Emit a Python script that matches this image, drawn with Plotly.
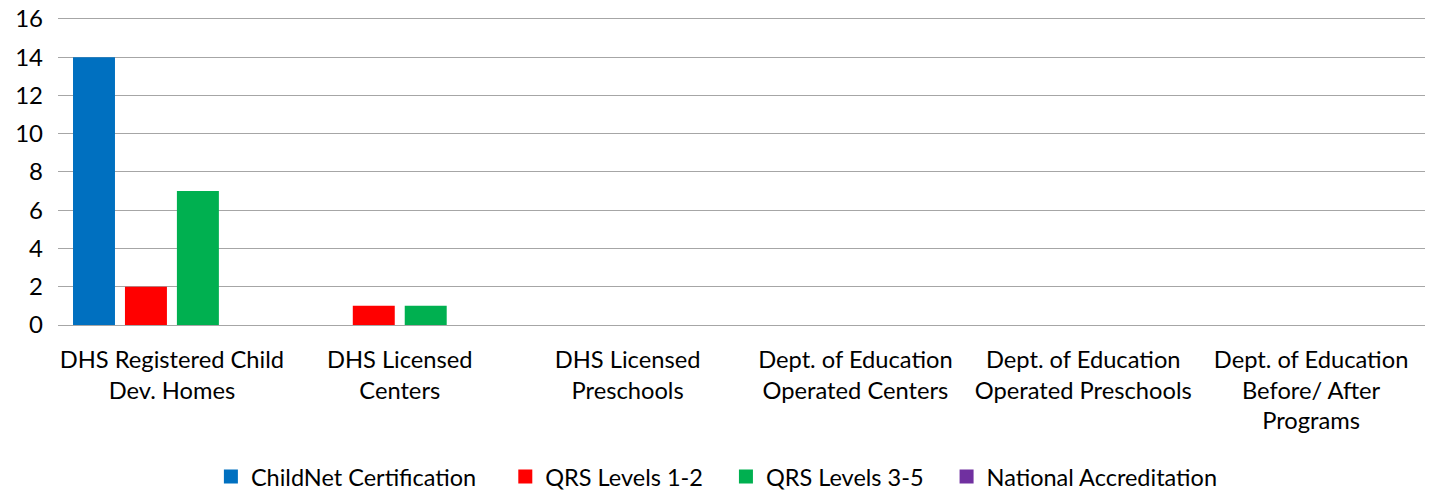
import plotly.graph_objects as go

categories = [
    "DHS Registered Child<br>Dev. Homes",
    "DHS Licensed<br>Centers",
    "DHS Licensed<br>Preschools",
    "Dept. of Education<br>Operated Centers",
    "Dept. of Education<br>Operated Preschools",
    "Dept. of Education<br>Before/ After<br>Programs",
]
childnet = [14, 0, 0, 0, 0, 0]
qrs_1_2 = [2, 1, 0, 0, 0, 0]
qrs_3_5 = [7, 1, 0, 0, 0, 0]
national = [0, 0, 0, 0, 0, 0]

series_names = ["ChildNet Certification", "QRS Levels 1-2", "QRS Levels 3-5", "National Accreditation"]
series_values = [childnet, qrs_1_2, qrs_3_5, national]
series_colors = ["#0070C0", "#FF0000", "#00B050", "#7030A0"]

fig = go.Figure()
for name, vals, color in zip(series_names, series_values, series_colors):
    fig.add_trace(go.Bar(x=categories, y=vals, name=name, showlegend=False,
                         marker=dict(color=color, line=dict(width=0))))

# legend entries with larger square swatches
pads = ["\u00a0" * 4, "\u00a0" * 3, "\u00a0" * 3, ""]
for name, color, pad in zip(series_names, series_colors, pads):
    fig.add_trace(go.Scatter(x=[None], y=[None], mode="markers", name=name + pad,
                             marker=dict(symbol="square", size=14, color=color)))

font = "Lato, Calibri, Carlito, sans-serif"
fig.update_layout(
    width=1429, height=491,
    margin=dict(l=58, r=4, t=17, b=166),
    paper_bgcolor="white", plot_bgcolor="white",
    barmode="group", bargap=0.088, bargroupgap=0.192,
    font=dict(family=font, size=20, color="#000000"),
    showlegend=True,
    legend=dict(orientation="h", x=0.482, xanchor="center", yref="container", y=0.029, yanchor="middle",
                font=dict(size=23.5), itemwidth=30, itemsizing="trace", traceorder="normal"),
    xaxis=dict(showgrid=False, showline=False, ticks="", tickfont=dict(size=23.7),
               automargin=False, ticklabelstandoff=18),
    yaxis=dict(range=[0, 16.1], tickvals=[0, 2, 4, 6, 8, 10, 12, 14, 16],
               showgrid=True, gridcolor="#A6A6A6", gridwidth=1.3,
               zeroline=True, zerolinecolor="#A6A6A6", zerolinewidth=1.3, automargin=False,
               showline=False, ticks="", ticklabelstandoff=14, tickfont=dict(size=24),
               ticklabeloverflow="allow"),
)
fig.write_html("out.html", config={"displayModeBar": False},
               post_script="document.body.style.margin='0';")
